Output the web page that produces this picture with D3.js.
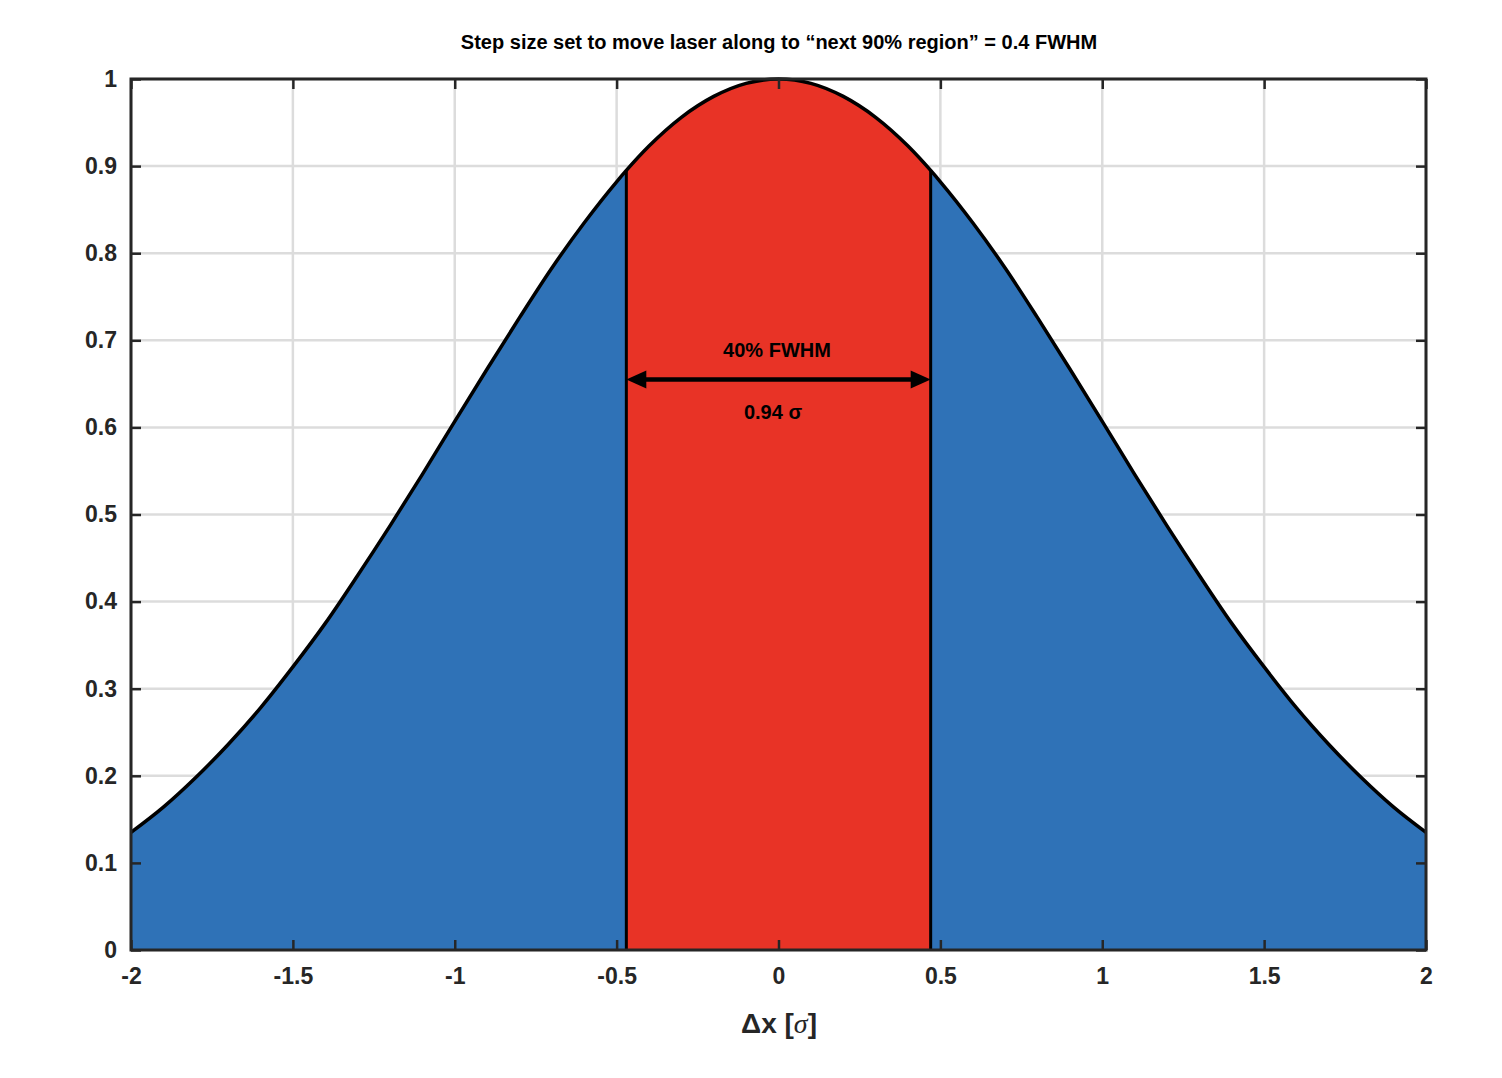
<!DOCTYPE html>
<html><head><meta charset="utf-8">
<script src="https://cdn.jsdelivr.net/npm/d3@7"></script>
<style>body{margin:0;background:#fff}text{font-family:"Liberation Sans",Arial,sans-serif;font-weight:bold}</style>
</head><body><svg id="c" width="1502" height="1078"></svg>
<script>
const xs = [-2,-1.9,-1.8,-1.7,-1.6,-1.5,-1.4,-1.3,-1.2,-1.1,-1,-0.9,-0.8,-0.7,-0.6,-0.5,-0.47,-0.4,-0.3,-0.2,-0.1,0,0.1,0.2,0.3,0.4,0.47,0.5,0.6,0.7,0.8,0.9,1,1.1,1.2,1.3,1.4,1.5,1.6,1.7,1.8,1.9,2];
const ys = [0.135,0.164,0.198,0.236,0.278,0.325,0.375,0.430,0.487,0.546,0.607,0.667,0.726,0.783,0.835,0.882,0.895,0.923,0.956,0.980,0.995,1,0.995,0.980,0.956,0.923,0.895,0.882,0.835,0.783,0.726,0.667,0.607,0.546,0.487,0.430,0.375,0.325,0.278,0.236,0.198,0.164,0.135];
const redRange = [-0.47, 0.47];
const xTicks = [-2,-1.5,-1,-0.5,0,0.5,1,1.5,2];
const yTicks = [0,0.1,0.2,0.3,0.4,0.5,0.6,0.7,0.8,0.9,1];
const arrowY = 0.655;
const pts = xs.map((x,i)=>({x,y:ys[i]}));
const svg = d3.select("#c");
const L=131,R=1426,T=79,B=950;
const x = d3.scaleLinear().domain([-2,2]).range([L,R]);
const y = d3.scaleLinear().domain([0,1]).range([B,T]);
const g = svg.append("g");
// grid
g.selectAll(".gx").data(xTicks).join("line").attr("x1",d=>x(d)).attr("x2",d=>x(d)).attr("y1",T).attr("y2",B).attr("stroke","#dcdcdc").attr("stroke-width",2.5);
g.selectAll(".gy").data(yTicks).join("line").attr("y1",d=>y(d)).attr("y2",d=>y(d)).attr("x1",L).attr("x2",R).attr("stroke","#dcdcdc").attr("stroke-width",2.5);
const area = d3.area().x(d=>x(d.x)).y0(y(0)).y1(d=>y(d.y)).curve(d3.curveMonotoneX);
g.append("path").datum(pts).attr("d",area).attr("fill","#2f72b7");
const red = pts.filter(d=>d.x>=redRange[0]-1e-9&&d.x<=redRange[1]+1e-9);
g.append("path").datum(red).attr("d",area).attr("fill","#e83326");
red.filter(d=>Math.abs(d.x)===redRange[1]).forEach(d=>{
  g.append("line").attr("x1",x(d.x)).attr("x2",x(d.x)).attr("y1",y(0)).attr("y2",y(d.y)).attr("stroke","#000").attr("stroke-width",3);
});
g.append("path").datum(pts).attr("d",d3.line().x(d=>x(d.x)).y(d=>y(d.y)).curve(d3.curveMonotoneX)).attr("fill","none").attr("stroke","#000").attr("stroke-width",3.5);
// arrow
const ay=y(arrowY), ax1=x(redRange[0]), ax2=x(redRange[1]);
g.append("line").attr("x1",ax1+15).attr("x2",ax2-15).attr("y1",ay).attr("y2",ay).attr("stroke","#000").attr("stroke-width",4.5);
g.append("path").attr("d",`M${ax1},${ay}L${ax1+20},${ay-9}L${ax1+20},${ay+9}Z`).attr("fill","#000");
g.append("path").attr("d",`M${ax2},${ay}L${ax2-20},${ay-9}L${ax2-20},${ay+9}Z`).attr("fill","#000");
g.append("text").attr("x",777).attr("y",357).attr("text-anchor","middle").attr("font-size",20).text("40% FWHM");
g.append("text").attr("x",773).attr("y",419).attr("text-anchor","middle").attr("font-size",20).text("0.94 σ");
// axes
const fmt=d=>String(d);
const ax=svg.append("g").attr("transform",`translate(0,${B})`).call(d3.axisBottom(x).tickValues(xTicks).tickFormat(fmt).tickSizeInner(-10).tickSizeOuter(0).tickPadding(18));
const axT=svg.append("g").attr("transform",`translate(0,${T})`).call(d3.axisTop(x).tickValues(xTicks).tickFormat("").tickSizeInner(-10).tickSizeOuter(0));
const ayL=svg.append("g").attr("transform",`translate(${L},0)`).call(d3.axisLeft(y).tickValues(yTicks).tickFormat(fmt).tickSizeInner(-10).tickSizeOuter(0).tickPadding(14));
const ayR=svg.append("g").attr("transform",`translate(${R},0)`).call(d3.axisRight(y).tickValues(yTicks).tickFormat("").tickSizeInner(-10).tickSizeOuter(0));
[ax,axT,ayL,ayR].forEach(a=>{a.select(".domain").remove();a.selectAll("line").attr("stroke","#262626").attr("stroke-width",2.5);a.selectAll("text").attr("font-size",23).attr("fill","#262626").style("font-family","Liberation Sans, Arial").style("font-weight","bold");});
svg.append("rect").attr("x",L).attr("y",T).attr("width",R-L).attr("height",B-T).attr("fill","none").attr("stroke","#262626").attr("stroke-width",3);
svg.append("text").attr("x",779).attr("y",49).attr("text-anchor","middle").attr("font-size",20).attr("fill","#000").text("Step size set to move laser along to “next 90% region” = 0.4 FWHM");
const xl=svg.append("text").attr("x",779).attr("y",1033).attr("text-anchor","middle").attr("font-size",28).attr("fill","#262626");
xl.append("tspan").text("Δx [");
xl.append("tspan").attr("font-style","italic").attr("font-family","Liberation Serif, serif").attr("font-weight","normal").text("σ");
xl.append("tspan").text("]");
</script></body></html>
